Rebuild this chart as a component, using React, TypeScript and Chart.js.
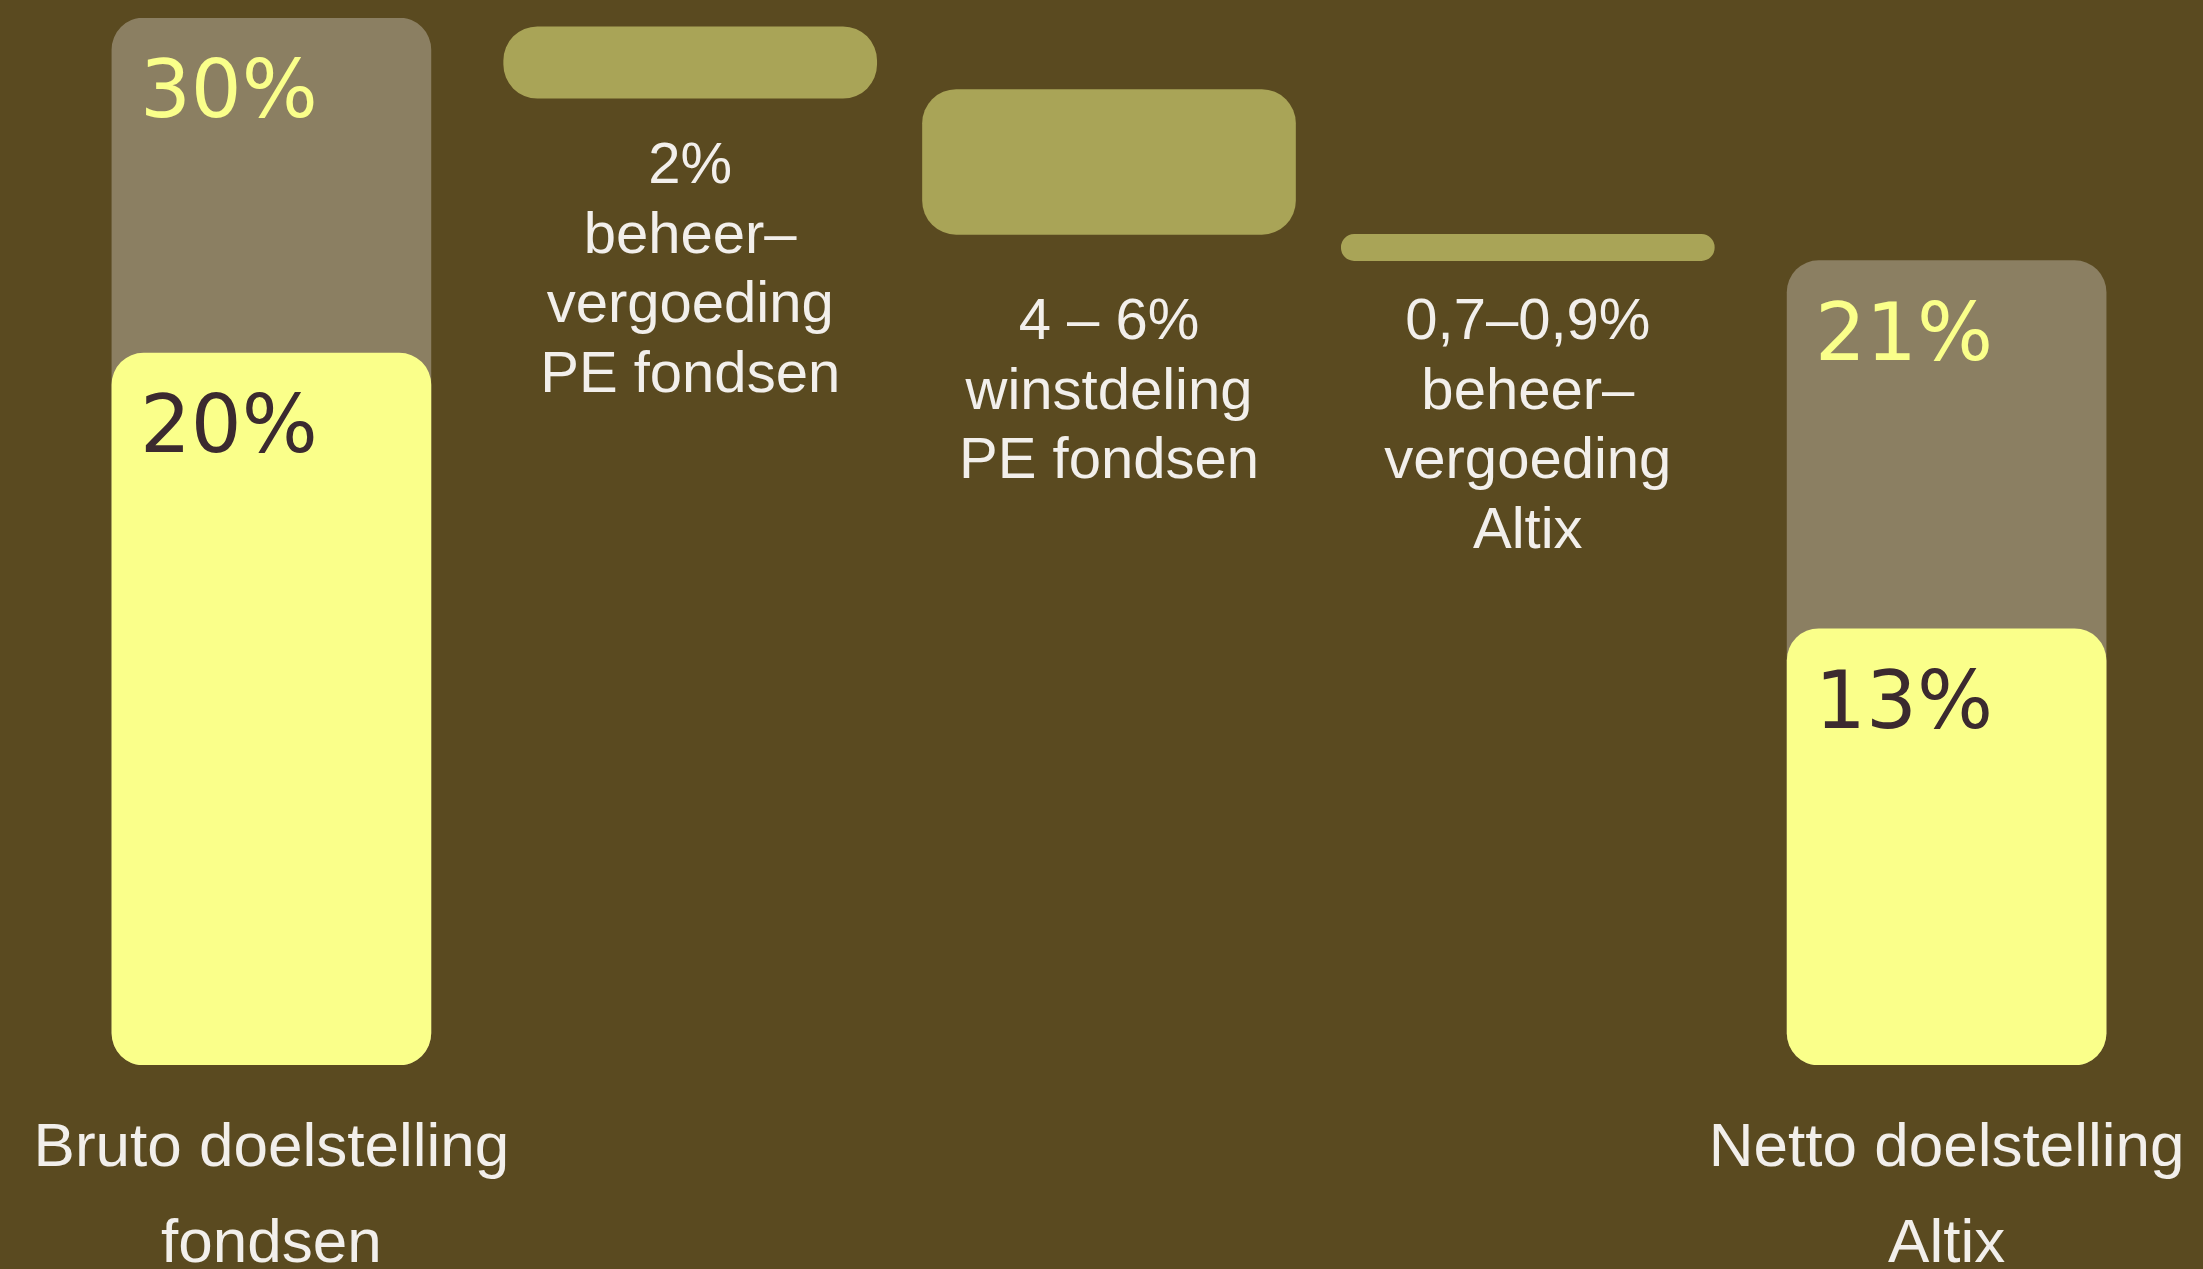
import React, { useEffect, useRef } from "react";
import { Chart, registerables } from "chart.js";

Chart.register(...registerables);

// ---- data ----
const categories: (string | string[])[] = [
  ["Bruto doelstelling", "fondsen"],
  "",
  "",
  "",
  ["Netto doelstelling", "Altix"],
];
const totalRanges = [[0, 30], null, null, null, [0, 23.05]];
const netRanges = [[0, 20.4], null, null, null, [0, 12.5]];
const costRanges = [null, [27.7, 29.75], [23.8, 27.95], [23.05, 23.8], null];
const totalLabels = ["30%", "", "", "", "21%"];
const netLabels = ["20%", "", "", "", "13%"];
const costCaptions: string[][] = [
  [],
  ["2%", "beheer–", "vergoeding", "PE fondsen"],
  ["4 – 6%", "winstdeling", "PE fondsen"],
  ["0,7–0,9%", "beheer–", "vergoeding", "Altix"],
  [],
];

// ---- style ----
const BG = "#5A4A20";
const GRAY = "#8B7F62";
const YELLOW = "#FAFF8A";
const OLIVE = "#A9A457";
const WHITE = "#F2EFEB";
const DARK = "#3B2A2F";

const labelPlugin = {
  id: "barLabels",
  afterDatasetsDraw(chart: any) {
    const ctx = chart.ctx;
    ctx.save();
    const drawInner = (dsIndex: number, labels: string[], color: string) => {
      const meta = chart.getDatasetMeta(dsIndex);
      meta.data.forEach((el: any, i: number) => {
        const text = labels[i];
        if (!text) return;
        const { x, y, base, width } = el.getProps(["x", "y", "base", "width"], true);
        const top = Math.min(y, base);
        ctx.font = '80px "DejaVu Sans"';
        ctx.fillStyle = color;
        ctx.textAlign = "left";
        ctx.textBaseline = "alphabetic";
        ctx.fillText(text, x - width / 2 + 28, top + 99);
      });
    };
    drawInner(1, totalLabels, YELLOW);
    drawInner(0, netLabels, DARK);

    // captions under the cost bars
    const firstBaseline = [0, 183, 339, 339, 0];
    const lineH = 69.5;
    const meta = chart.getDatasetMeta(2);
    meta.data.forEach((el: any, i: number) => {
      const lines = costCaptions[i];
      if (!lines || !lines.length) return;
      const { x } = el.getProps(["x"], true);
      ctx.font = '58px "Liberation Sans"';
      ctx.fillStyle = WHITE;
      ctx.textAlign = "center";
      ctx.textBaseline = "alphabetic";
      lines.forEach((line, k) => {
        ctx.fillText(line, x, firstBaseline[i] + k * lineH);
      });
    });
    ctx.restore();
  },
};

export default function App() {
  const ref = useRef<HTMLCanvasElement | null>(null);
  useEffect(() => {
    if (!ref.current) return;
    const common = {
      grouped: false,
      barPercentage: 1,
      categoryPercentage: 1,
      borderSkipped: false as const,
      borderWidth: 0,
    };
    const chart = new Chart(ref.current, {
      type: "bar",
      data: {
        labels: categories,
        datasets: [
          { label: "Netto", data: netRanges as any, backgroundColor: YELLOW, borderRadius: 32, maxBarThickness: 319, ...common },
          { label: "Totaal", data: totalRanges as any, backgroundColor: GRAY, borderRadius: 32, maxBarThickness: 319, ...common },
          { label: "Kosten", data: costRanges as any, backgroundColor: OLIVE, borderRadius: 34, maxBarThickness: 373, ...common },
        ],
      },
      options: {
        responsive: false,
        animation: false,
        devicePixelRatio: 1,
        layout: { padding: { top: 18, left: 62, right: 47, bottom: 0 } },
        plugins: { legend: { display: false }, tooltip: { enabled: false } },
        scales: {
          x: {
            grid: { display: false, drawTicks: false },
            border: { display: false },
            ticks: {
              color: WHITE,
              font: { family: '"Liberation Sans"', size: 62, lineHeight: 96 / 62 },
              padding: 36,
              maxRotation: 0,
              minRotation: 0,
              autoSkip: false,
            },
            afterFit: (scale: any) => {
              scale.height = 204;
              scale.paddingLeft = 0;
              scale.paddingRight = 0;
            },
          },
          y: { display: false, min: 0, max: 30 },
        },
      },
      plugins: [labelPlugin],
    });
    return () => chart.destroy();
  }, []);
  return (
    <div style={{ position: "fixed", left: 0, top: 0, width: 2203, height: 1269, background: BG }}>
      <canvas ref={ref} width={2203} height={1269} style={{ display: "block" }} />
    </div>
  );
}
